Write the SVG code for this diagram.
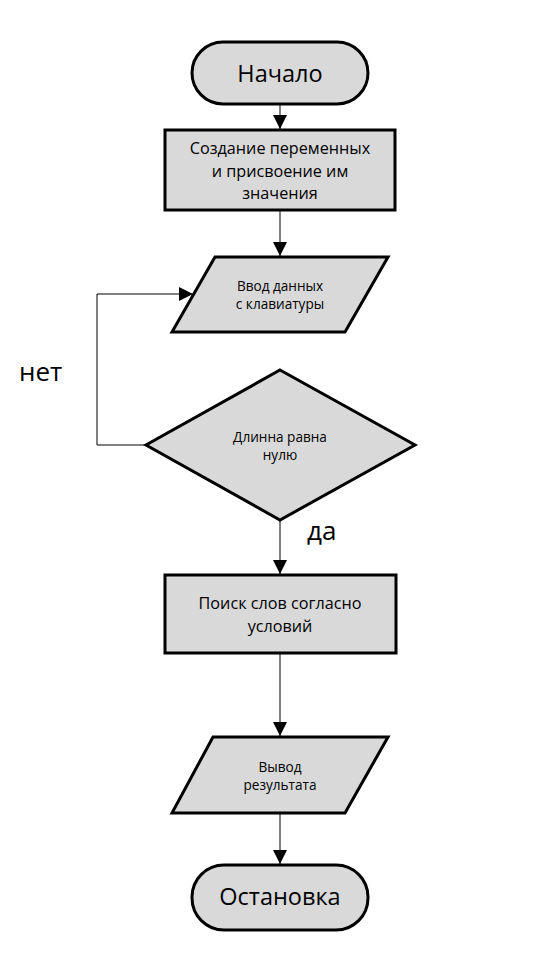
<svg xmlns="http://www.w3.org/2000/svg" width="551" height="979" viewBox="0 0 551 979">
<style>
.shape{fill:#d9d9d9;stroke:#000;stroke-width:3;stroke-linejoin:miter}
.t{font-family:"Open Sans","Noto Sans","Liberation Sans",sans-serif;fill:#000;text-anchor:middle}
.big{font-size:23.5px}
.mid{font-size:16.2px}
.small{font-size:13.6px}
.lbl{font-family:"Open Sans","Noto Sans","Liberation Sans",sans-serif;font-size:26px;fill:#000}
.c{fill:none;stroke:#000;stroke-width:1}
</style>
<defs>
<marker id="arr" viewBox="0 0 14 14" refX="14" refY="7" markerWidth="14" markerHeight="14" markerUnits="userSpaceOnUse" orient="auto">
<path d="M0,0 L14,7 L0,14 Z" fill="#000"/>
</marker>
</defs>
<rect width="551" height="979" fill="#fff"/>
<g id="connectors">
<path class="c" d="M280,104 V129" marker-end="url(#arr)"/>
<path class="c" d="M280,211 V256" marker-end="url(#arr)"/>
<path class="c" d="M146,445 H97 V294 H193" marker-end="url(#arr)"/>
<path class="c" d="M280,520 V574" marker-end="url(#arr)"/>
<path class="c" d="M280,654 V736" marker-end="url(#arr)"/>
<path class="c" d="M280,814 V864" marker-end="url(#arr)"/>
</g>
<g id="start">
<rect class="shape" x="192" y="42" width="176" height="62" rx="31" ry="31"/>
<text class="t big" x="280" y="82">Начало</text>
</g>
<g id="init">
<rect class="shape" x="165" y="130" width="230" height="80"/>
<text class="t mid" x="280" y="154">Создание переменных</text>
<text class="t mid" x="280" y="177">и присвоение им</text>
<text class="t mid" x="280" y="199">значения</text>
</g>
<g id="input">
<polygon class="shape" points="215,257 388,257 345,332 172,332"/>
<text class="t small" x="280" y="291">Ввод данных</text>
<text class="t small" x="280" y="309">с клавиатуры</text>
</g>
<g id="decision">
<polygon class="shape" points="280,370 415,445 280,520 146,445"/>
<text class="t small" x="280" y="442">Длинна равна</text>
<text class="t small" x="280" y="460">нулю</text>
</g>
<g id="search">
<rect class="shape" x="165" y="575" width="231" height="78"/>
<text class="t mid" x="280" y="609">Поиск слов согласно</text>
<text class="t mid" x="280" y="632">условий</text>
</g>
<g id="output">
<polygon class="shape" points="213,737 388,737 345,813 172,813"/>
<text class="t small" x="280" y="772">Вывод</text>
<text class="t small" x="280" y="790">результата</text>
</g>
<g id="stop">
<rect class="shape" x="192" y="865" width="176" height="65" rx="32" ry="32"/>
<text class="t big" x="280" y="905">Остановка</text>
</g>
<text class="lbl" x="19" y="381">нет</text>
<text class="lbl" x="307" y="540">да</text>
</svg>
